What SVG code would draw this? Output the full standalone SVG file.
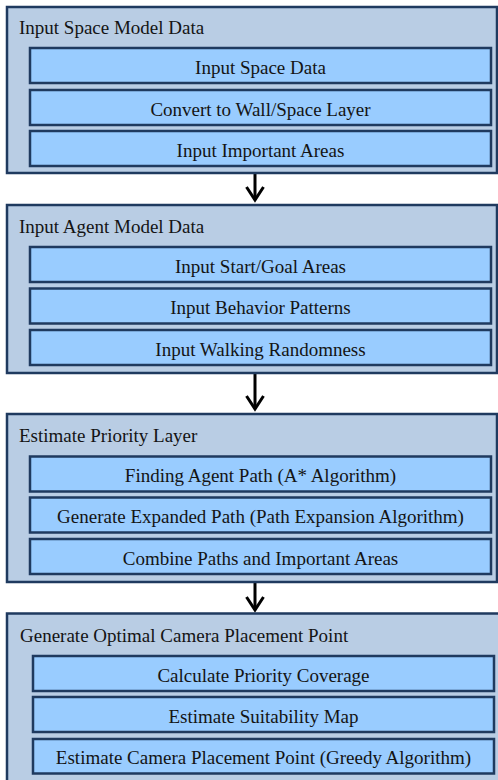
<svg xmlns="http://www.w3.org/2000/svg" width="498" height="780" viewBox="0 0 498 780">
<style>
.outer{fill:#b9cde4;stroke:#1f3a5f;stroke-width:2.5}
.inner{fill:#99ccff;stroke:#1f3a5f;stroke-width:2.5}
text{font-family:'Liberation Serif','Times New Roman','DejaVu Serif',serif;font-size:19px;fill:#141414}
.c{text-anchor:middle}
.conn{stroke:#000;stroke-width:3;fill:none}
</style>
<defs>
<marker id="arr" markerUnits="userSpaceOnUse" orient="auto" refX="0" refY="0" markerWidth="30" markerHeight="30" overflow="visible">
<path d="M-13,-8.5 L0,0 L-13,8.5" fill="none" stroke="#000" stroke-width="3"/>
</marker>
</defs>
<rect width="498" height="780" fill="#fff"/>
<g id="connectors">
<path class="conn" d="M255,174 V200" marker-end="url(#arr)"/>
<path class="conn" d="M255,374 V409" marker-end="url(#arr)"/>
<path class="conn" d="M255,583 V610" marker-end="url(#arr)"/>
</g>
<g font-family="Liberation Serif, serif">
<g id="node-space">
<rect class="outer" x="7" y="7" width="490" height="166"/>
<text x="19" y="34">Input Space Model Data</text>
<g id="node-space-1"><rect class="inner" x="30" y="48" width="461" height="35"/><text class="c" x="260.5" y="73.5">Input Space Data</text></g>
<g id="node-space-2"><rect class="inner" x="30" y="90" width="461" height="35"/><text class="c" x="260.5" y="115.5">Convert to Wall/Space Layer</text></g>
<g id="node-space-3"><rect class="inner" x="30" y="131" width="461" height="35"/><text class="c" x="260.5" y="156.5">Input Important Areas</text></g>
</g>
<g id="node-agent">
<rect class="outer" x="7" y="205" width="490" height="168"/>
<text x="19" y="233">Input Agent Model Data</text>
<g id="node-agent-1"><rect class="inner" x="30" y="247" width="461" height="35"/><text class="c" x="260.5" y="272.5">Input Start/Goal Areas</text></g>
<g id="node-agent-2"><rect class="inner" x="30" y="288.5" width="461" height="35"/><text class="c" x="260.5" y="314">Input Behavior Patterns</text></g>
<g id="node-agent-3"><rect class="inner" x="30" y="330" width="461" height="35"/><text class="c" x="260.5" y="355.5">Input Walking Randomness</text></g>
</g>
<g id="node-priority">
<rect class="outer" x="7" y="414" width="490" height="168"/>
<text x="19" y="442">Estimate Priority Layer</text>
<g id="node-priority-1"><rect class="inner" x="30" y="456.5" width="461" height="35"/><text class="c" x="260.5" y="482">Finding Agent Path (A* Algorithm)</text></g>
<g id="node-priority-2"><rect class="inner" x="30" y="497.5" width="461" height="35"/><text class="c" x="260.5" y="523">Generate Expanded Path (Path Expansion Algorithm)</text></g>
<g id="node-priority-3"><rect class="inner" x="30" y="539" width="461" height="35"/><text class="c" x="260.5" y="564.5">Combine Paths and Important Areas</text></g>
</g>
<g id="node-camera">
<rect class="outer" x="7" y="613.5" width="495" height="170"/>
<text x="20" y="641.5">Generate Optimal Camera Placement Point</text>
<g id="node-camera-1"><rect class="inner" x="33" y="656" width="461" height="35"/><text class="c" x="263.5" y="681.5">Calculate Priority Coverage</text></g>
<g id="node-camera-2"><rect class="inner" x="33" y="697" width="461" height="35"/><text class="c" x="263.5" y="722.5">Estimate Suitability Map</text></g>
<g id="node-camera-3"><rect class="inner" x="33" y="739" width="461" height="34.5"/><text class="c" x="263.5" y="764">Estimate Camera Placement Point (Greedy Algorithm)</text></g>
</g>
</g>
</svg>
